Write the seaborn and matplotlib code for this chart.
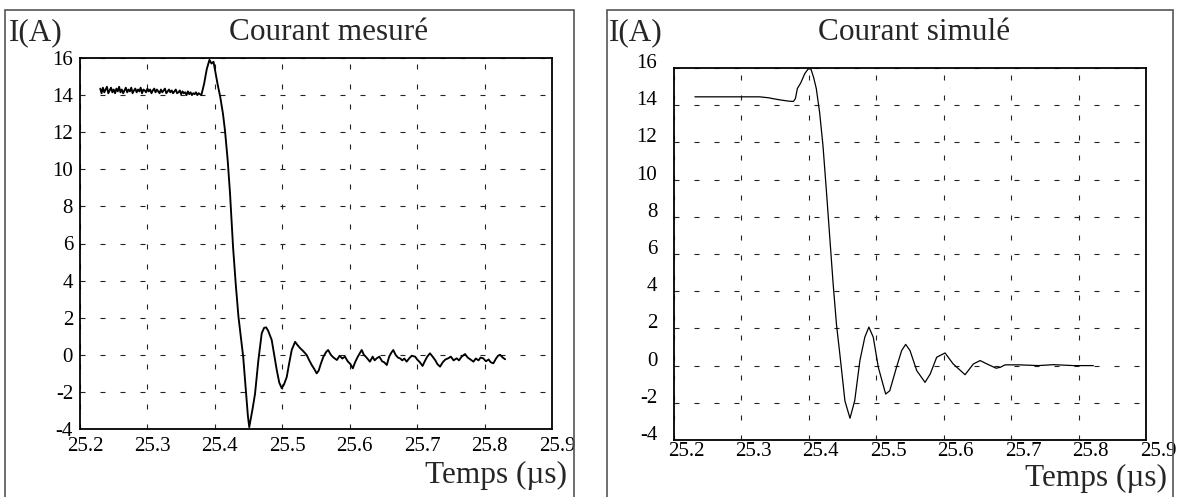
import matplotlib
matplotlib.use("Agg")
import matplotlib.pyplot as plt
import matplotlib.transforms as mtransforms
from matplotlib.patches import Rectangle
import seaborn as sns
import pandas as pd

# ---------------- data ----------------
x_ticks = [25.2, 25.3, 25.4, 25.5, 25.6, 25.7, 25.8, 25.9]
x_tick_labels = ["25.2", "25.3", "25.4", "25.5", "25.6", "25.7", "25.8", "25.9"]
y_ticks = [-4, -2, 0, 2, 4, 6, 8, 10, 12, 14, 16]
y_tick_labels = ["-4", "-2", "0", "2", "4", "6", "8", "10", "12", "14", "16"]

titles = ["Courant mesuré", "Courant simulé"]
y_label = "I(A)"
x_label = "Temps (µs)"

# measured current (left panel): noisy plateau
t_plateau = [
    25.230, 25.232, 25.234, 25.236, 25.238, 25.240, 25.242, 25.244, 25.246, 25.248,
    25.250, 25.252, 25.254, 25.256, 25.258, 25.260, 25.262, 25.264, 25.266, 25.268,
    25.270, 25.272, 25.274, 25.276, 25.278, 25.280, 25.282, 25.284, 25.286, 25.288,
    25.290, 25.292, 25.294, 25.296, 25.298, 25.300, 25.302, 25.304, 25.306, 25.308,
    25.310, 25.312, 25.314, 25.316, 25.318, 25.320, 25.322, 25.324, 25.326, 25.328,
    25.330, 25.332, 25.334, 25.336, 25.338, 25.340, 25.342, 25.344, 25.346, 25.348,
    25.350, 25.352, 25.354, 25.356, 25.358, 25.360, 25.362, 25.364, 25.366, 25.368,
    25.370, 25.372, 25.374, 25.376, 25.378,
]
i_plateau = [
    14.35, 14.10, 14.40, 14.15, 14.30, 14.45, 14.10, 14.25, 14.40, 14.15,
    14.30, 14.10, 14.35, 14.20, 14.45, 14.15, 14.30, 14.10, 14.25, 14.40,
    14.15, 14.30, 14.20, 14.40, 14.10, 14.25, 14.35, 14.15, 14.30, 14.20,
    14.40, 14.10, 14.30, 14.25, 14.15, 14.35, 14.20, 14.30, 14.10, 14.25,
    14.35, 14.15, 14.30, 14.20, 14.10, 14.30, 14.15, 14.25, 14.35, 14.10,
    14.20, 14.30, 14.15, 14.25, 14.10, 14.20, 14.30, 14.10, 14.15, 14.25,
    14.05, 14.20, 14.10, 14.15, 14.00, 14.20, 14.05, 14.15, 14.00, 14.10,
    14.05, 14.15, 14.00, 14.10, 14.05,
]
# measured current: switching transient and ringing
t_transient = [
    25.380, 25.384, 25.388, 25.392, 25.395, 25.398, 25.401, 25.404, 25.408, 25.412,
    25.415, 25.419, 25.4225, 25.427, 25.431, 25.435, 25.439, 25.442, 25.445, 25.447,
    25.449, 25.451, 25.4535, 25.456, 25.4596, 25.4645, 25.4695, 25.473, 25.476, 25.479,
    25.4843, 25.488, 25.4917, 25.4955, 25.4992, 25.5025, 25.5066, 25.510, 25.514, 25.519,
    25.522, 25.5264, 25.531, 25.536, 25.540, 25.5437, 25.548, 25.551, 25.554, 25.557,
    25.561, 25.565, 25.568, 25.572, 25.576, 25.581, 25.585, 25.589, 25.593, 25.597,
    25.601, 25.6046, 25.608, 25.612, 25.6178, 25.621, 25.625, 25.630, 25.634, 25.637,
    25.640, 25.644, 25.648, 25.651, 25.655, 25.6585, 25.6615, 25.6646, 25.668, 25.6715,
    25.6746, 25.678, 25.681, 25.6844, 25.688, 25.692, 25.697, 25.700, 25.704, 25.708,
    25.712, 25.715, 25.719, 25.723, 25.727, 25.730, 25.734, 25.738, 25.742, 25.746,
    25.750, 25.754, 25.7587, 25.762, 25.766, 25.771, 25.775, 25.779, 25.7835, 25.787,
    25.791, 25.794, 25.798, 25.802, 25.806, 25.809, 25.813, 25.817, 25.820, 25.823,
    25.827, 25.8305,
]
i_transient = [
    14.00, 14.60, 15.40, 15.90, 15.70, 15.80, 15.20, 14.60, 13.90, 13.00,
    12.10, 10.50, 8.70, 5.80, 3.80, 2.05, 0.80, -0.10, -1.50, -2.40,
    -3.30, -3.90, -3.40, -2.90, -2.10, -0.30, 1.16, 1.45, 1.48, 1.30,
    0.80, 0.00, -0.80, -1.50, -1.80, -1.60, -1.20, -0.50, 0.26, 0.70,
    0.55, 0.36, 0.20, 0.00, -0.30, -0.55, -0.80, -1.00, -0.85, -0.50,
    -0.10, 0.15, 0.26, 0.00, -0.15, -0.28, -0.05, -0.20, -0.10, -0.35,
    -0.50, -0.73, -0.40, -0.10, 0.26, 0.00, -0.15, -0.37, -0.10, -0.30,
    -0.19, -0.10, -0.35, -0.40, -0.55, -0.10, 0.10, 0.26, 0.00, -0.15,
    -0.19, -0.30, -0.20, -0.37, -0.20, -0.05, -0.10, -0.25, -0.40, -0.60,
    -0.30, -0.10, 0.08, -0.10, -0.30, -0.50, -0.64, -0.40, -0.25, -0.19,
    -0.10, -0.30, -0.19, -0.30, -0.10, 0.04, -0.15, -0.25, -0.37, -0.20,
    -0.30, -0.15, -0.19, -0.35, -0.25, -0.40, -0.46, -0.20, -0.05, 0.00,
    -0.15, -0.24,
]

# simulated current (right panel)
t_sim = [
    25.231, 25.260, 25.290, 25.327, 25.340, 25.350, 25.360, 25.370, 25.377, 25.380,
    25.383, 25.388, 25.394, 25.399, 25.403, 25.407, 25.411, 25.416, 25.421, 25.426,
    25.431, 25.436, 25.441, 25.446, 25.4535, 25.461, 25.468, 25.4757, 25.483, 25.489,
    25.4955, 25.503, 25.5139, 25.520, 25.530, 25.5376, 25.5436, 25.550, 25.560, 25.5723,
    25.580, 25.5896, 25.602, 25.614, 25.6317, 25.644, 25.654, 25.664, 25.6777, 25.684,
    25.691, 25.713, 25.740, 25.763, 25.7926, 25.822,
]
i_sim = [
    14.45, 14.45, 14.45, 14.45, 14.40, 14.33, 14.27, 14.22, 14.20, 14.35,
    14.90, 15.20, 15.70, 15.95, 15.95, 15.50, 14.90, 13.60, 11.80, 9.40,
    6.90, 4.40, 2.20, 0.60, -1.90, -2.83, -1.89, 0.27, 1.53, 2.07,
    1.53, -0.09, -1.53, -1.35, -0.09, 0.81, 1.14, 0.81, -0.27, -0.90,
    -0.45, 0.45, 0.68, 0.09, -0.49, 0.09, 0.27, 0.09, -0.14, -0.09,
    0.04, 0.04, 0.00, 0.05, 0.00, 0.00,
]

# ---------------- style ----------------
sns.set_theme(style="white")
plt.rcParams["font.family"] = ["Liberation Serif", "DejaVu Serif"]
plt.rcParams["axes.unicode_minus"] = False
plt.rcParams["lines.scale_dashes"] = False

W, H, DPI = 1177, 497, 100
fig = plt.figure(figsize=(W / DPI, H / DPI), dpi=DPI)
fig.patch.set_facecolor("white")

def fx(px):
    return px / W

def fy(py):
    return 1 - py / H

ax_l = fig.add_axes([fx(80), fy(429), fx(552 - 80), (429 - 58) / H])
ax_r = fig.add_axes([fx(674), fy(440), fx(1146 - 674), (440 - 68) / H])

df_meas = pd.DataFrame({"t": t_plateau + t_transient, "i": i_plateau + i_transient})
df_sim = pd.DataFrame({"t": t_sim, "i": i_sim})

sns.lineplot(data=df_meas, x="t", y="i", ax=ax_l, color="black", lw=1.35,
             estimator=None, sort=False)
sns.lineplot(data=df_sim, x="t", y="i", ax=ax_r, color="black", lw=0.9,
             estimator=None, sort=False)

def shift(labels, dx_px, dy_px):
    off = mtransforms.ScaledTranslation(dx_px / DPI, dy_px / DPI, fig.dpi_scale_trans)
    for lab in labels:
        lab.set_transform(lab.get_transform() + off)

for ax, ypad, xpad in [(ax_l, 5, 6), (ax_r, 12, 1.5)]:
    ax.set_xlim(25.2, 25.9)
    ax.set_ylim(-4, 16)
    ax.set_xticks(x_ticks)
    ax.set_xticklabels(x_tick_labels)
    ax.set_yticks(y_ticks)
    ax.set_yticklabels(y_tick_labels)
    ax.set_xlabel("")
    ax.set_ylabel("")
    ax.grid(True, color="#222222", lw=0.8, linestyle=(0, (3.6, 10.8)))
    ax.tick_params(axis="both", direction="in", length=3, width=0.8,
                   labelsize=15, colors="black")
    ax.tick_params(axis="y", pad=ypad)
    ax.tick_params(axis="x", pad=xpad)
    for sp in ax.spines.values():
        sp.set_color("black")
        sp.set_linewidth(1.3)
        sp.set_visible(True)
    ax.set_facecolor("white")

shift(ax_l.get_xticklabels(), 5, 0)
shift(ax_r.get_xticklabels(), 12, 0)
shift(ax_r.get_yticklabels(), 0, 7)

# outer frames around each panel
for x0, x1 in [(5, 574), (607, 1173)]:
    fig.add_artist(Rectangle((fx(x0), -0.05), fx(x1 - x0), fy(10) + 0.05,
                             transform=fig.transFigure, fill=False,
                             edgecolor="#555555", lw=1.2))

big = 22.5
fig.text(fx(9), fy(33), y_label, fontsize=big, ha="left", va="center")
fig.text(fx(609), fy(33), y_label, fontsize=big, ha="left", va="center")
fig.text(fx(329), fy(33), titles[0], fontsize=big, ha="center", va="center")
fig.text(fx(914), fy(33), titles[1], fontsize=big, ha="center", va="center")
fig.text(fx(567), fy(475), x_label, fontsize=big, ha="right", va="center")
fig.text(fx(1167), fy(478), x_label, fontsize=big, ha="right", va="center")

fig.savefig("out.png", dpi=DPI, facecolor="white")
